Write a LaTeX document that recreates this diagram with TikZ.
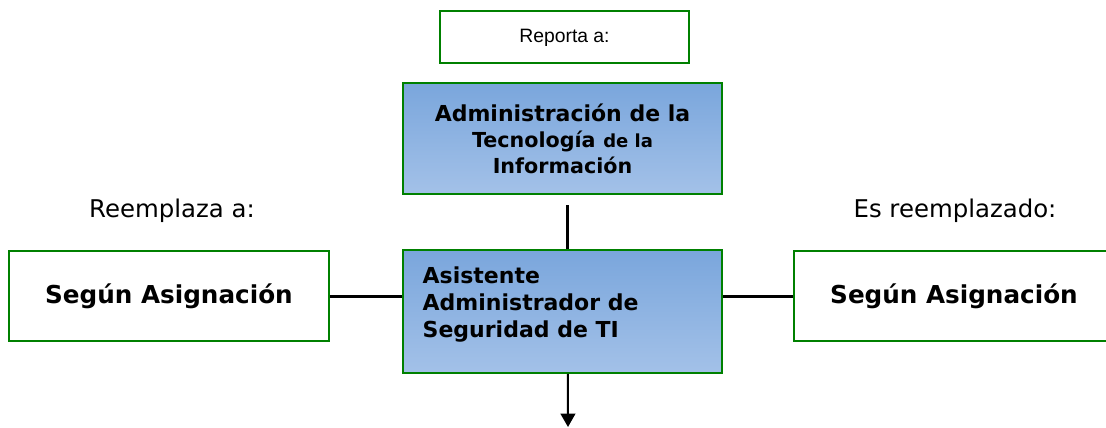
\documentclass[tikz,border=0pt]{standalone}
\usepackage{fontspec}
\setmainfont{DejaVu Sans}
\newfontfamily\arialfont{Liberation Sans}
\usepackage{tikz}
\usetikzlibrary{arrows.meta,positioning}
\definecolor{verdecaja}{RGB}{0,128,0}
\definecolor{azularriba}{RGB}{122,166,220}
\definecolor{azulabajo}{RGB}{163,193,232}
\tikzset{
    %Define standard arrow tip
    >={Triangle[width=11pt,length=10pt]},
    %Define style for boxes
    puesto/.style={
           rectangle,
           draw=verdecaja, line width=1.5pt,
           minimum width=239pt,
           minimum height=92pt,
           top color=azularriba,
           bottom color=azulabajo,
           inner sep=0pt},
    reemplazo/.style={
           rectangle,
           draw=verdecaja, line width=1.5pt,
           minimum width=240pt,
           minimum height=67.5pt,
           fill=white,
           font=\bfseries\fontsize{18.5}{22}\selectfont,
           text centered},
    reporte/.style={
           rectangle,
           draw=verdecaja, line width=1.5pt,
           minimum width=186.75pt,
           minimum height=39pt,
           font=\arialfont\fontsize{14.5}{17}\selectfont,
           text centered},
    titulo/.style={
           font=\fontsize{18.3}{22}\selectfont},
    % Define connector style
    linea/.style={
           line width=2.25pt}
}
\begin{document}
\begin{tikzpicture}[x=0.75pt,y=-0.75pt]
\useasboundingbox (0,0) rectangle (1106,428);
\node[puesto](asistente) at (562.5,311.5){};
\node[anchor=north west,align=left,font=\bfseries\fontsize{16.5}{20.25}\selectfont]
  (textoasist) at (418,262){Asistente\\Administrador de\\Seguridad de TI};
\node[puesto,minimum height=82.5pt,above=41pt of asistente,align=center,
  font=\bfseries\fontsize{16.5}{19.5}\selectfont](tic)
  {Administración de la\\{\fontsize{15.5}{19.5}\selectfont Tecnología}
   {\fontsize{13.5}{19.5}\selectfont de la}\\{\fontsize{15.5}{19.5}\selectfont Información}};
\node[reporte,above=13.5pt of tic,xshift=1.5pt](reporta){Reporta a:};
\node[reemplazo,anchor=north west](izq) at (8,250){Según Asignación};
\node[reemplazo,anchor=north west](der) at (793,250){Según Asignación};
\node[titulo,anchor=base](reemplaza) at (172,217){Reemplaza a:};
\node[titulo,anchor=base](esreemplazado) at (955,217){Es reemplazado:};
\coordinate (abajo) at (568,427);
\draw[linea,shorten <=8pt] ([xshift=4pt]tic.south) -- ([xshift=4pt]asistente.north);
\draw[linea] (izq.east) -- (izq.east -| asistente.west);
\draw[linea] (der.west -| asistente.east) -- (der.west);
\draw[->,line width=1.5pt] ([xshift=4pt]asistente.south) -- (abajo);
\end{tikzpicture}
\end{document}
